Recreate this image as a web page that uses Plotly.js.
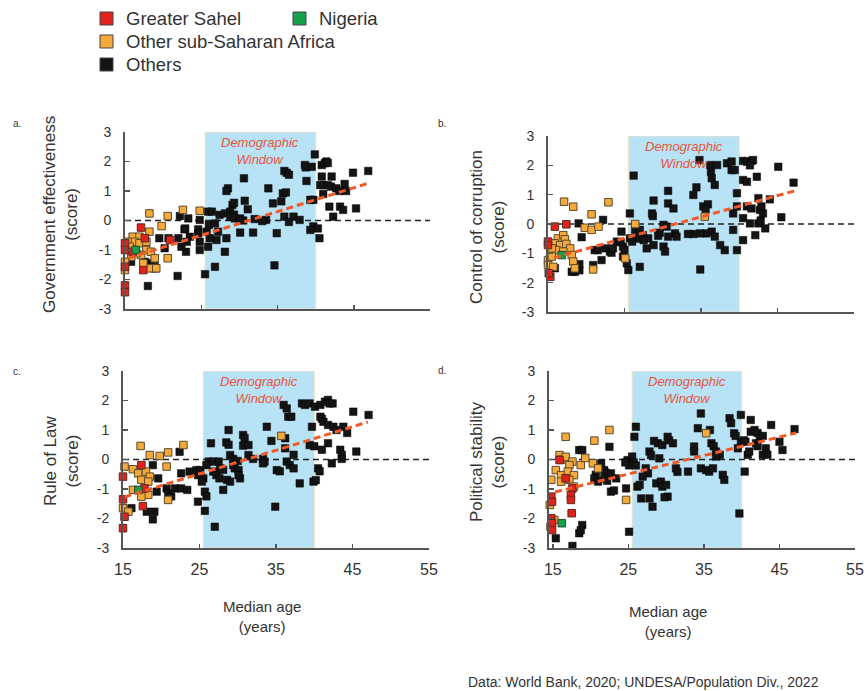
<!DOCTYPE html>
<html>
<head>
<meta charset="utf-8">
<script src="https://cdn.plot.ly/plotly-3.0.1.min.js"></script>
<style>html,body{margin:0;padding:0;background:#fff;}#chart{width:864px;height:691px;}</style>
</head>
<body>
<div id="chart"></div>
<script>
// ---------------- DATA ----------------
const xTickVals = [15, 25, 35, 45, 55];
const xTickText = ['15', '25', '35', '45', '55'];
const yTickVals = [-3, -2, -1, 0, 1, 2, 3];
const yTickText = ['-3', '-2', '-1', '0', '1', '2', '3'];
const windowAge = [25.5, 40];
const groupNames = ['Greater Sahel', 'Nigeria', 'Other sub-Saharan Africa', 'Others'];
const panelTitles = ['Government effectiveness<br>(score)', 'Control of corruption<br>(score)', 'Rule of Law<br>(score)', 'Political stability<br>(score)'];
const panelLetters = ['a.', 'b.', 'c.', 'd.'];

// Panel a: Government effectiveness
const aSahelX = [15.0,15.0,17.1,17.6,16.0,20.9,15.0,17.4,15.0,15.0];
const aSahelY = [-0.77,-1.00,-0.24,-0.60,-1.06,-0.66,-1.57,-1.68,-2.20,-2.43];
const aNigX = [16.4];
const aNigY = [-1.0];
const aSsaX = [18.2,20.6,22.6,24.8,19.8,18.2,16.0,16.9,15.4,16.3,16.9,17.8,15.6,17.8,17.1,18.4,15.8,18.9,20.6,15.0,15.0,18.2,19.1,16.5,17.4];
const aSsaY = [0.24,0.15,0.36,0.33,-0.19,-0.38,-0.55,-0.55,-0.72,-0.72,-0.77,-0.72,-0.89,-1.00,-1.17,-1.06,-1.23,-1.28,-1.28,-1.40,-1.68,-1.62,-1.62,-1.11,-1.45];
const aOthX = [22.2,23.3,24.8,25.9,26.4,27.4,28.1,22.8,24.6,24.6,22.9,25.7,26.0,26.8,27.2,19.5,20.7,22.0,23.5,24.8,23.1,26.1,27.0,25.9,20.2,22.4,23.0,24.8,28.1,18.9,18.2,17.6,15.8,18.7,19.0,21.9,25.5,26.8,18.0,
  28.5,28.3,29.1,29.3,28.8,29.3,28.8,29.4,30.1,30.6,30.7,31.1,30.5,30.1,31.8,28.3,
  33.8,33.5,34.4,35.5,34.9,34.6,35.7,36.1,35.9,36.2,36.5,35.9,37.1,37.9,36.5,38.6,38.7,38.8,39.5,39.9,39.7,39.3,39.7,40.3,39.3,40.5,40.8,41.2,41.4,41.6,40.8,42.1,40.6,41.0,41.6,42.0,42.7,43.1,43.8,41.8,43.2,43.6,45.3,42.3,44.9,46.9,41.0,32.0,33.0,44.0];
const aOthY = [0.15,0.07,0.02,0.30,0.30,0.19,0.24,-0.30,-0.30,-0.44,-0.27,-0.38,-0.15,-0.10,-0.38,-0.60,-0.60,-0.60,-0.55,-0.72,-0.72,-0.60,-0.66,-0.89,-0.94,-0.89,-1.06,-1.00,-1.06,-1.34,-1.45,-1.40,-1.40,-1.62,-1.62,-1.88,-1.82,-1.57,-2.22,
  1.09,1.00,0.53,0.60,0.30,0.20,0.13,0.07,0.07,1.43,0.67,0.38,0.00,-0.41,-0.41,-0.60,
  1.09,0.02,0.58,0.65,-0.43,-1.52,0.92,0.95,1.68,1.62,1.55,0.13,0.13,0.02,-0.05,1.88,1.80,1.34,1.82,2.24,0.70,0.70,-0.20,-0.27,-0.32,-0.60,1.88,1.94,2.00,1.95,1.49,1.49,1.20,1.20,1.20,1.15,1.09,1.00,1.24,0.47,0.47,0.36,0.41,0.13,1.62,1.68,0.90,0.05,-0.02,1.00];
const aTrendX = [15.5, 47.0];
const aTrendY = [-1.27, 1.27];

// Panel b: Control of corruption
const bSahelX = [15.0,15.9,17.4,15.0,15.3,15.1];
const bSahelY = [-0.60,-0.09,-0.01,-0.72,-1.80,-1.68];
const bNigX = [16.8];
const bNigY = [-1.06];
const bSsaX = [17.1,18.3,22.9,20.7,19.8,20.7,21.6,16.3,17.0,17.2,15.9,16.6,17.4,17.9,16.1,17.0,18.1,15.0,15.0,15.7,18.3,18.5,20.9,25.1,26.4,15.5,15.5,35.5];
const bSsaY = [0.76,0.59,0.74,0.33,-0.13,-0.20,-0.09,-0.49,-0.38,-0.52,-0.66,-0.72,-0.68,-0.83,-0.89,-0.94,-1.06,-1.23,-1.40,-1.46,-1.28,-1.51,-1.55,-1.17,0.00,-1.11,-0.83,0.25];
const bOthX = [19.0,22.2,15.9,18.1,18.5,19.1,18.7,19.1,20.9,19.4,22.5,23.1,23.3,22.0,21.1,21.5,24.6,25.7,25.3,25.5,27.0,24.0,24.5,25.7,23.5,24.8,26.2,
  28.8,28.7,28.6,30.7,30.7,31.4,34.0,34.4,34.8,36.2,36.3,36.4,36.8,37.1,38.4,39.0,39.0,39.4,39.7,40.5,41.0,41.6,41.8,41.4,40.5,41.0,42.3,45.1,47.1,42.5,
  44.0,41.0,41.6,42.7,35.3,35.9,35.6,39.2,39.7,45.5,40.5,41.4,42.5,42.8,43.1,42.9,43.4,40.5,42.1,39.7,38.1,37.5,39.2,36.4,36.8,35.7,34.9,34.0,33.3,34.9,
  31.6,31.8,30.7,30.1,30.5,29.6,29.4,30.1,30.3,28.8,28.1,27.4,26.4,27.0,26.6,27.0,27.5,27.9,26.0,24.8,25.0];
const bOthY = [0.02,0.14,-1.51,-1.63,-1.63,-1.58,-1.40,-1.37,-1.40,-0.45,-0.83,-0.94,-0.98,-1.23,-0.89,-0.89,-0.26,0.36,-1.34,-1.57,-1.46,-0.60,-0.62,-0.49,-0.83,-1.11,1.65,
  0.80,0.27,0.36,1.13,0.70,0.53,0.99,1.25,2.18,2.01,1.78,1.56,1.33,2.01,2.07,2.13,1.84,1.84,1.05,2.15,2.12,2.15,2.18,2.00,1.50,1.44,1.61,1.95,1.41,0.88,
  0.84,0.60,0.53,0.48,0.60,0.67,0.50,0.36,0.60,0.23,0.20,0.02,0.02,0.12,0.36,0.60,-0.15,-0.55,-0.38,-0.89,-0.89,-0.72,-0.20,-0.26,-0.43,-0.32,-0.32,-0.34,-0.34,-1.55,
  -0.32,-0.43,-0.43,-0.03,-0.09,-0.30,-0.40,-0.77,-0.94,-0.72,-0.49,-0.38,-0.20,-0.20,-0.49,-0.49,-0.55,-0.83,-0.60,-0.77,-0.88];
const bTrendX = [15.8, 47.5];
const bTrendY = [-1.15, 1.15];

// Panel c: Rule of Law
const cSahelX = [17.4,15.0,17.8,15.0,17.6,15.2,15.0];
const cSahelY = [-0.19,-0.58,-0.98,-1.35,-1.58,-1.94,-2.33];
const cNigX = [17.0];
const cNigY = [-1.03];
const cSsaX = [17.3,18.5,19.8,20.9,22.9,20.7,15.2,16.3,17.0,18.0,18.5,17.4,18.3,16.3,17.6,18.3,17.4,20.9,15.0,15.7,35.7];
const cSsaY = [0.46,0.15,0.12,0.24,0.49,-0.24,-0.24,-0.33,-0.47,-0.41,-0.58,-0.69,-0.75,-1.03,-1.06,-1.20,-1.26,-1.37,-1.65,-1.77,0.80];
const cOthX = [18.9,22.4,26.5,19.6,22.6,23.7,24.8,21.8,22.6,23.4,19.4,25.7,25.9,24.8,25.7,16.1,19.1,18.9,18.1,27.0,20.7,20.9,21.3,18.1,24.6,25.1,
  28.8,28.5,28.8,29.0,30.7,30.9,30.7,31.4,29.4,30.0,26.2,26.8,27.5,27.7,28.1,25.9,25.5,25.3,26.8,27.2,27.6,28.1,28.6,29.0,29.4,29.6,30.1,30.3,30.1,31.4,
  32.0,33.3,33.5,33.8,34.4,33.3,34.9,35.1,35.5,36.0,36.4,36.6,37.0,36.2,36.2,37.3,36.4,36.8,37.3,38.1,38.4,38.8,39.4,40.1,39.7,39.4,40.0,39.9,40.2,40.5,
  40.7,40.8,41.4,41.8,42.0,42.4,40.8,41.0,41.2,41.8,42.5,42.9,43.8,41.8,41.0,42.3,43.4,43.6,43.6,45.1,45.5,47.1,44.3];
const cOthY = [-0.19,0.26,0.55,-0.64,-0.47,-0.41,-0.53,-0.98,-0.98,-1.03,-1.09,-1.09,-1.25,-1.43,-1.74,-1.65,-1.77,-2.03,-1.77,-2.28,-0.98,-1.15,-1.25,-1.10,-0.36,-0.36,
  1.00,0.58,0.50,0.15,0.83,0.72,0.47,0.49,0.02,-0.05,-0.07,-0.07,-0.07,-0.30,-0.35,-0.19,-0.64,-0.75,-0.41,-0.53,-0.64,-1.03,-0.69,-0.75,-0.19,-0.30,-0.36,-0.64,-0.53,0.15,
  0.02,0.02,-0.07,1.11,0.63,-0.13,-1.60,-0.36,-0.40,1.85,1.73,1.45,1.45,0.72,0.38,0.16,-0.07,-0.19,-0.30,-0.81,1.90,1.85,1.90,1.79,1.11,0.49,0.45,-0.75,-0.70,-0.30,
  -0.40,1.85,1.96,2.02,1.90,1.90,1.45,1.38,1.28,1.17,1.11,1.00,1.11,0.55,0.33,-0.13,0.33,0.16,0.02,1.62,0.27,1.51,0.90];
const cTrendX = [15.2, 47.0];
const cTrendY = [-1.27, 1.27];

// Panel d: Political stability
const dSahelX = [15.9,14.8,14.9,17.6,17.4,17.4,17.5,14.8,14.9,14.9,16.7];
const dSahelY = [-0.02,-1.26,-1.43,-0.98,-1.20,-1.37,-1.82,-1.99,-2.16,-2.39,-0.64];
const dNigX = [16.2];
const dNigY = [-2.16];
const dSsaX = [16.7,22.5,20.5,15.9,16.1,16.7,17.6,17.2,18.7,20.3,21.0,15.4,16.1,17.0,17.8,14.8,16.1,17.2,17.8,14.6,14.7,15.2,24.7,35.3,19.3];
const dSsaY = [0.77,1.00,0.64,0.15,0.00,0.09,-0.07,-0.19,-0.19,-0.13,-0.30,-0.36,-0.53,-0.41,-0.53,-0.69,-0.75,-0.69,-0.92,-1.54,-2.28,-2.05,-1.37,0.89,0.05];
const dOthX = [18.5,18.9,22.5,21.4,21.8,22.0,22.7,23.4,21.8,22.2,22.7,23.1,24.7,24.9,25.5,25.7,25.1,26.0,24.6,26.0,
  25.8,25.1,15.4,18.9,18.5,18.7,17.6,20.7,20.5,21.0,26.2,28.4,28.9,27.8,28.0,27.3,27.6,26.9,26.5,26.7,
  27.8,28.2,28.7,29.3,29.5,30.0,30.2,29.8,29.1,30.2,30.4,30.9,29.5,31.3,31.5,32.9,33.7,33.7,34.2,34.6,
  35.3,35.7,36.2,34.6,35.8,36.0,36.3,36.6,37.1,36.6,37.5,37.7,38.4,38.6,39.0,39.2,39.9,39.7,39.5,39.9,
  40.3,40.5,40.4,40.8,41.0,41.2,41.2,41.7,42.1,42.4,42.8,41.9,42.1,42.8,43.2,43.4,43.9,45.0,45.4,47.0];
const dOthY = [0.32,0.32,0.43,-0.13,-0.36,-0.45,-0.47,-0.64,-0.64,-0.72,-1.09,-1.05,-0.98,-0.02,0.10,-0.10,-0.20,-0.20,-0.10,1.11,
  0.77,-2.45,-2.67,-2.22,-2.50,-2.40,-2.93,-0.52,-0.64,-0.75,-0.92,0.63,0.55,0.27,0.15,-0.30,-0.47,-0.58,-0.86,-1.32,
  -1.32,-1.60,-0.81,-0.75,-0.92,-0.86,-1.26,-1.28,0.04,0.77,0.65,0.55,0.49,-0.30,-0.42,-0.41,0.44,0.27,1.06,-0.30,
  -0.36,-0.41,-0.30,1.56,1.00,0.55,0.45,0.27,0.16,0.10,-0.52,-0.69,1.40,1.23,0.89,0.80,1.51,-1.83,0.38,0.60,
  0.65,0.60,-0.41,0.16,0.27,1.34,0.94,1.00,0.90,0.72,0.80,0.55,0.45,0.16,0.38,0.16,1.17,0.60,0.32,1.03];
const dTrendX = [15.3, 47.2];
const dTrendY = [-1.10, 0.90];

// ---------------- STYLE / LAYOUT ----------------
const W = 864, H = 691;
const FONT = 'Liberation Sans, Arial, sans-serif';
const TXT = '#333333';
const COL = {sahel:'#e3211c', nig:'#17a04b', ssa:'#f5a93a', oth:'#141414'};
const px = v => v / W;
const py = v => 1 - v / H;

// pixel boxes of each subplot: [left, right, top, bottom], x-range
const panels = [
  {box:[125,430,132,309], xr:[15,55], lab:false, data:[aSahelX,aSahelY,aNigX,aNigY,aSsaX,aSsaY,aOthX,aOthY,aTrendX,aTrendY]},
  {box:[548,854,136,312], xr:[15,55], lab:false, data:[bSahelX,bSahelY,bNigX,bNigY,bSsaX,bSsaY,bOthX,bOthY,bTrendX,bTrendY]},
  {box:[123,429,371,548], xr:[15,55], lab:true,  data:[cSahelX,cSahelY,cNigX,cNigY,cSsaX,cSsaY,cOthX,cOthY,cTrendX,cTrendY]},
  {box:[549,855,371,548], xr:[14.5,55], lab:true, data:[dSahelX,dSahelY,dNigX,dNigY,dSsaX,dSsaY,dOthX,dOthY,dTrendX,dTrendY]}
];

const traces = [];
const shapes = [];
const annotations = [];
const layout = {
  width: W, height: H,
  margin: {l:0, r:0, t:0, b:0},
  paper_bgcolor: '#ffffff', plot_bgcolor: 'rgba(0,0,0,0)',
  showlegend: false,
  font: {family: FONT, color: TXT},
  shapes: shapes, annotations: annotations
};

panels.forEach((p, i) => {
  const n = i === 0 ? '' : String(i + 1);
  const xa = 'x' + n, ya = 'y' + n;
  const [l, r, t, b] = p.box;
  layout['xaxis' + n] = {
    domain: [px(l), px(r)], anchor: ya, range: p.xr,
    showgrid: false, zeroline: false, showline: true, linecolor: '#555', linewidth: 2,
    ticks: 'inside', ticklen: 4, tickwidth: 1.5, tickcolor: '#555',
    tickvals: xTickVals, ticktext: xTickText, showticklabels: p.lab, ticklabelstandoff: 6,
    tickfont: {size: 16, color: TXT, family: FONT}, fixedrange: true
  };
  layout['yaxis' + n] = {
    domain: [py(b), py(t)], anchor: xa, range: [-3, 3],
    showgrid: false, zeroline: false, showline: true, linecolor: '#555', linewidth: 2,
    ticks: 'inside', ticklen: 5, tickwidth: 1.5, tickcolor: '#555',
    tickvals: yTickVals, ticktext: yTickText, ticklabelstandoff: 9,
    tickfont: {size: 14, color: TXT, family: FONT}, fixedrange: true
  };
  const [sx, sy, nx, ny, ox2, oy2, ox, oy, tx, ty] = p.data;
  // demographic window and zero line
  shapes.push({type:'rect', xref:xa, yref:ya, x0:windowAge[0], x1:windowAge[1], y0:-3, y1:3,
    fillcolor:'#b8e2f6', line:{color:'#efe2c0', width:1}, layer:'below'});
  shapes.push({type:'line', xref:xa, yref:ya, x0:p.xr[0], x1:55, y0:0, y1:0,
    line:{color:'#222', width:1.6, dash:'6px,4px'}, layer:'below'});
  const mk = (x, y, col, lc, lw, name) => ({
    type:'scatter', mode:'markers', x:x, y:y, xaxis:xa, yaxis:ya, name:name, cliponaxis:false,
    marker:{symbol:'square', size:7.5, color:col, line:{color:lc, width:lw}}, hoverinfo:'skip'
  });
  traces.push(mk(ox, oy, COL.oth, '#000', 0.5, groupNames[3]));
  traces.push(mk(ox2, oy2, COL.ssa, '#5b4a2e', 1, groupNames[2]));
  traces.push(mk(sx, sy, COL.sahel, '#5a2a20', 1, groupNames[0]));
  traces.push(mk(nx, ny, COL.nig, '#2d4a30', 1, groupNames[1]));
  traces.push({type:'scatter', mode:'lines', x:tx, y:ty, xaxis:xa, yaxis:ya, hoverinfo:'skip',
    line:{color:'#f05a28', width:3, dash:'7px,4px'}});
  annotations.push({xref:xa, yref:ya, x:(windowAge[0]+windowAge[1])/2, y:3, yanchor:'top', xanchor:'center',
    yshift:-1, showarrow:false, text:'<i>Demographic<br>Window</i>',
    font:{size:13, color:'#e9553b', family:FONT}});
  // panel letter
  const letPos = [[17,123],[442,123],[17,371],[442,370]][i];
  annotations.push({xref:'paper', yref:'paper', x:px(letPos[0]), y:py(letPos[1]), xanchor:'center', yanchor:'middle',
    showarrow:false, text:panelLetters[i], font:{size:10, color:TXT, family:FONT}});
  // y title
  const tPos = [[61,214],[487,227],[61,461],[488,462]][i];
  annotations.push({xref:'paper', yref:'paper', x:px(tPos[0]), y:py(tPos[1]), xanchor:'center', yanchor:'middle',
    showarrow:false, textangle:-90, text:panelTitles[i], font:{size:17, color:TXT, family:FONT}});
});

// x titles
[[262,616],[668,621]].forEach(pos => {
  annotations.push({xref:'paper', yref:'paper', x:px(pos[0]), y:py(pos[1]), xanchor:'center', yanchor:'middle',
    showarrow:false, text:'Median age<br>(years)', font:{size:15, color:TXT, family:FONT}});
});
// source
annotations.push({xref:'paper', yref:'paper', x:px(821), y:py(682), xanchor:'right', yanchor:'middle',
  showarrow:false, text:'Data: World Bank, 2020; UNDESA/Population Div., 2022', font:{size:14, color:TXT, family:FONT}});

// legend (drawn manually)
const legendItems = [
  {name:groupNames[0], col:COL.sahel, sq:[100,12]},
  {name:groupNames[1], col:COL.nig, sq:[293,12]},
  {name:groupNames[2], col:COL.ssa, sq:[100,35]},
  {name:groupNames[3], col:COL.oth, sq:[100,58]}
];
legendItems.forEach(it => {
  const [x0, y0] = it.sq;
  shapes.push({type:'rect', xref:'paper', yref:'paper', x0:px(x0), x1:px(x0+13), y0:py(y0+13), y1:py(y0),
    fillcolor:it.col, line:{color:'#444', width:1}});
  annotations.push({xref:'paper', yref:'paper', x:px(x0+24), y:py(y0+6.5), xanchor:'left', yanchor:'middle',
    showarrow:false, text:it.name, font:{size:18.5, color:TXT, family:FONT}});
});

Plotly.newPlot('chart', traces, layout, {displayModeBar:false, staticPlot:true});
</script>
</body>
</html>
